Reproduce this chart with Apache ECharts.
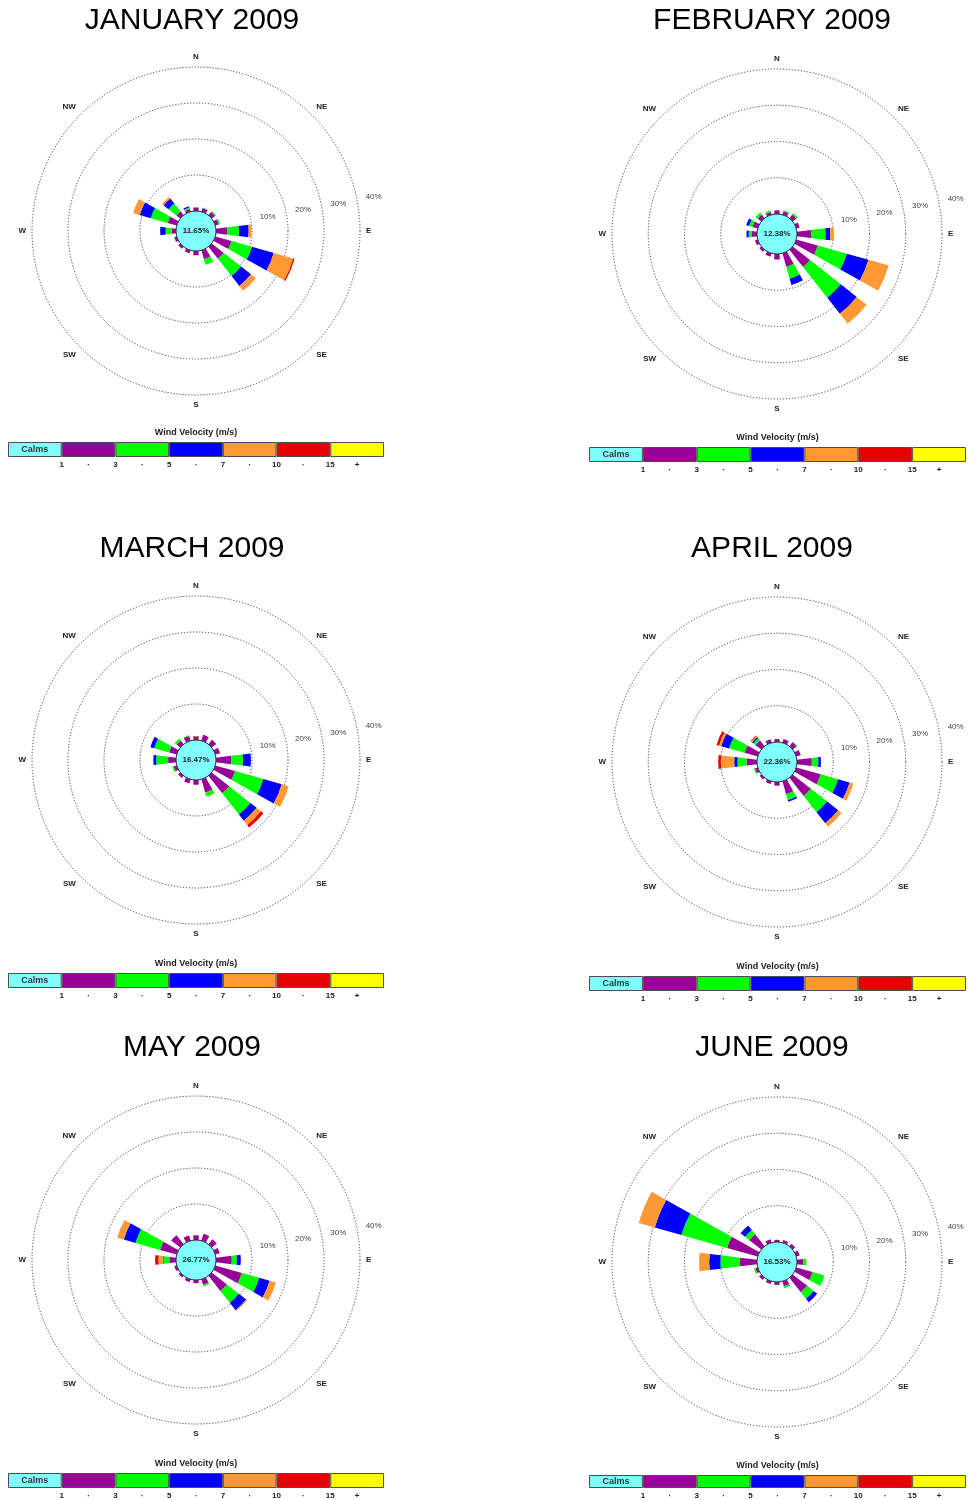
<!DOCTYPE html>
<html><head><meta charset="utf-8">
<script src="https://cdn.jsdelivr.net/npm/echarts@6/dist/echarts.min.js"></script>
<style>html,body{margin:0;padding:0;background:#fff}#c{width:973px;height:1500px}</style>
</head><body><div id="c"></div>
<script>
// ---------- data ----------
const DIRS = ['N','NNE','NE','ENE','E','ESE','SE','SSE','S','SSW','SW','WSW','W','WNW','NW','NNW'];
const COMPASS = ['N','NE','E','SE','S','SW','W','NW'];
const SPEED_CLASSES = ['1 - 3','3 - 5','5 - 7','7 - 10','10 - 15','15 +'];
const LEGEND_CELLS = ['Calms','1 - 3','3 - 5','5 - 7','7 - 10','10 - 15','15 +'];
const LEGEND_TICKS = ['', '', '1', '·', '3', '·', '5', '·', '7', '·', '10', '·', '15', '+', ''];
const RINGS = [10, 20, 30, 40];
const MONTHS = ['JANUARY 2009','FEBRUARY 2009','MARCH 2009','APRIL 2009','MAY 2009','JUNE 2009'];
const CALMS = [11.65, 12.38, 16.47, 22.36, 26.77, 16.53];

//                N    NNE  NE   ENE  E    ESE  SE   SSE  S    SSW  SW   WSW  W    WNW  NW   NNW
const JAN_1_3  = [1.0, 1.1, 1.2, 1.0, 3.2, 4.7, 4.3, 2.6, 1.2, 0.9, 0.7, 0.7, 1.2, 2.6, 1.4, 0.8];
const JAN_3_5  = [0,   0.1, 0.3, 0.4, 3.2, 5.9, 6.1, 1.6, 0,   0,   0,   0.1, 1.7, 4.9, 2.8, 0.4];
const JAN_5_7  = [0,   0,   0,   0,   2.7, 6.3, 3.5, 0,   0,   0,   0,   0,   1.5, 3.2, 1.7, 0.4];
const JAN_7_10 = [0,   0,   0,   0,   0.8, 5.6, 1.7, 0,   0,   0,   0,   0,   0,   1.9, 0.6, 0];
const JAN_10_15= [0,   0,   0,   0,   0,   0.4, 0,   0,   0,   0,   0,   0,   0,   0,   0,   0];
const JAN_15P  = [0,   0,   0,   0,   0,   0,   0,   0,   0,   0,   0,   0,   0,   0,   0,   0];

const FEB_1_3  = [1.0, 1.0, 1.3, 1.0, 3.9, 6.2, 6.1, 3.9, 1.5, 1.0, 0.7, 0.8, 1.4, 1.5, 1.3, 0.8];
const FEB_3_5  = [0,   0.3, 0.5, 0,   4.0, 8.3, 10.8,3.4, 0,   0,   0,   0,   0.9, 1.0, 0.7, 0.4];
const FEB_5_7  = [0,   0,   0,   0,   1.3, 6.2, 5.6, 1.8, 0,   0,   0,   0,   0.6, 0.8, 0,   0];
const FEB_7_10 = [0,   0,   0,   0,   1.0, 5.8, 3.5, 0,   0,   0,   0,   0,   0,   0,   0,   0];
const FEB_10_15= [0,   0,   0,   0,   0,   0,   0,   0,   0,   0,   0,   0,   0,   0,   0,   0];
const FEB_15P  = [0,   0,   0,   0,   0,   0,   0,   0,   0,   0,   0,   0,   0,   0,   0,   0];

const MAR_1_3  = [1.1, 1.7, 1.6, 1.4, 4.3, 5.7, 6.2, 3.8, 1.3, 1.2, 0.8, 0.9, 2.2, 2.2, 1.3, 1.4];
const MAR_3_5  = [0,   0,   0,   0,   3.2, 8.2, 7.5, 1.2, 0,   0,   0,   0.4, 3.3, 4.3, 0.7, 0.2];
const MAR_5_7  = [0,   0,   0,   0,   2.2, 5.3, 2.2, 0,   0,   0,   0,   0,   0.8, 1.1, 0,   0];
const MAR_7_10 = [0,   0,   0,   0,   0,   2.0, 1.5, 0,   0,   0,   0,   0,   0,   0,   0,   0];
const MAR_10_15= [0,   0,   0,   0,   0,   0,   0.9, 0,   0,   0,   0,   0,   0,   0,   0,   0];
const MAR_15P  = [0,   0,   0,   0,   0,   0,   0,   0,   0,   0,   0,   0,   0,   0,   0,   0];

const APR_1_3  = [0.8, 1.1, 1.4, 1.3, 4.1, 7.0, 6.4, 3.7, 1.0, 0.8, 0.6, 0.8, 2.9, 3.8, 2.0, 1.0];
const APR_3_5  = [0,   0,   0.2, 0,   1.8, 5.0, 5.7, 1.7, 0,   0,   0,   0.3, 2.5, 4.4, 0.8, 0];
const APR_5_7  = [0,   0,   0,   0,   0.7, 3.3, 3.9, 0.5, 0,   0,   0,   0,   0.9, 2.3, 0.5, 0];
const APR_7_10 = [0,   0,   0,   0,   0,   1.1, 1.2, 0,   0,   0,   0,   0,   3.7, 0.6, 0.3, 0];
const APR_10_15= [0,   0,   0,   0,   0,   0,   0,   0,   0,   0,   0,   0,   0.7, 0.7, 0.2, 0];
const APR_15P  = [0,   0,   0,   0,   0,   0,   0,   0,   0,   0,   0,   0,   0,   0,   0,   0];

const MAY_1_3  = [1.3, 2.0, 1.8, 1.3, 4.4, 7.7, 5.4, 1.6, 0.9, 0.8, 0.6, 0.7, 1.7, 4.8, 3.2, 1.5];
const MAY_3_5  = [0,   0,   0,   0,   1.4, 5.0, 4.2, 0.4, 0,   0,   0,   0,   1.8, 7.1, 0,   0];
const MAY_5_7  = [0,   0,   0,   0,   1.1, 3.0, 2.6, 0,   0,   0,   0,   0,   0.2, 3.4, 0,   0];
const MAY_7_10 = [0,   0,   0,   0,   0,   1.8, 0.3, 0,   0,   0,   0,   0,   1.2, 1.9, 0,   0];
const MAY_10_15= [0,   0,   0,   0,   0,   0,   0,   0,   0,   0,   0,   0,   0.9, 0,   0,   0];
const MAY_15P  = [0,   0,   0,   0,   0,   0,   0,   0,   0,   0,   0,   0,   0,   0,   0,   0];

const JUN_1_3  = [0.6, 0.8, 0.9, 1.0, 1.8, 4.7, 5.1, 1.4, 0.8, 0.8, 0.8, 0.7, 4.7, 8.8, 4.2, 1.0];
const JUN_3_5  = [0,   0,   0,   0,   0.8, 3.4, 2.3, 0.6, 0,   0,   0,   0.4, 5.4, 13.1,1.5, 0];
const JUN_5_7  = [0,   0,   0,   0,   0,   0,   1.2, 0,   0,   0,   0,   0,   3.1, 7.6, 1.6, 0];
const JUN_7_10 = [0,   0,   0,   0,   0,   0,   0,   0,   0,   0,   0,   0,   2.8, 4.6, 0,   0];
const JUN_10_15= [0,   0,   0,   0,   0,   0,   0,   0,   0,   0,   0,   0,   0,   0,   0,   0];
const JUN_15P  = [0,   0,   0,   0,   0,   0,   0,   0,   0,   0,   0,   0,   0,   0,   0,   0];

const MONTH_DATA = [
  [JAN_1_3, JAN_3_5, JAN_5_7, JAN_7_10, JAN_10_15, JAN_15P],
  [FEB_1_3, FEB_3_5, FEB_5_7, FEB_7_10, FEB_10_15, FEB_15P],
  [MAR_1_3, MAR_3_5, MAR_5_7, MAR_7_10, MAR_10_15, MAR_15P],
  [APR_1_3, APR_3_5, APR_5_7, APR_7_10, APR_10_15, APR_15P],
  [MAY_1_3, MAY_3_5, MAY_5_7, MAY_7_10, MAY_10_15, MAY_15P],
  [JUN_1_3, JUN_3_5, JUN_5_7, JUN_7_10, JUN_10_15, JUN_15P]
];

// ---------- styles / layout ----------
const SPEED_COLORS = ['#990099','#00ff00','#0000ff','#ff9933','#e60000','#ffff00'];
const CALM_COLOR = '#80ffff';
const FONT = '"Liberation Sans", Arial, Helvetica, sans-serif';
const R_IN = 20, LEG_H = 15, R_MAX = 40;
const PANELS = [
  {cx:196, cy:231,  r:164, tx:192, ty:21,   lx:8,   ly:442,  lw:376},
  {cx:777, cy:234,  r:165, tx:772, ty:21,   lx:589, ly:447,  lw:377},
  {cx:196, cy:760,  r:164, tx:192, ty:549,  lx:8,   ly:973,  lw:376},
  {cx:777, cy:762,  r:165, tx:772, ty:549,  lx:589, ly:976,  lw:377},
  {cx:196, cy:1260, r:164, tx:192, ty:1048, lx:8,   ly:1473, lw:376},
  {cx:777, cy:1262, r:165, tx:772, ty:1048, lx:589, ly:1475, lw:377}
];

function txt(x, y, text, size, weight, color) {
  return {type:'text', x:x, y:y, silent:true, z:50,
    style:{text:text, fontSize:size, fontWeight:weight, fontFamily:FONT, fill:color,
      textAlign:'center', textVerticalAlign:'middle', align:'center', verticalAlign:'middle'}};
}

const polar = [], angleAxis = [], radiusAxis = [], grid = [], xAxis = [], yAxis = [], series = [], graphic = [];

PANELS.forEach((p, i) => {
  polar.push({center:[p.cx, p.cy], radius:[R_IN, p.r]});
  angleAxis.push({
    polarIndex:i, type:'category', data:DIRS, startAngle:90 + 360 / 32, clockwise:true, boundaryGap:true,
    axisLine:{show:false}, axisTick:{show:false}, splitLine:{show:false},
    axisLabel:{interval:0, margin:6, fontSize:8, fontWeight:'bold', fontFamily:FONT, color:'#222',
      formatter:v => COMPASS.indexOf(v) >= 0 ? v : ''}
  });
  radiusAxis.push({
    polarIndex:i, type:'value', min:0, max:R_MAX, interval:10,
    axisLine:{show:false}, axisTick:{show:false}, axisLabel:{show:false},
    splitLine:{show:true, lineStyle:{type:[1.2, 1.8], color:'#444', width:1}}
  });
  SPEED_CLASSES.forEach((cls, k) => {
    series.push({type:'bar', coordinateSystem:'polar', polarIndex:i, stack:'rose' + i, name:cls,
      data:MONTH_DATA[i][k], barWidth:'60%', silent:true, itemStyle:{color:SPEED_COLORS[k]}});
  });
  series.push({type:'pie', center:[p.cx, p.cy], radius:[0, R_IN], silent:true, z:5,
    data:[{value:CALMS[i], name:'Calms'}],
    itemStyle:{color:CALM_COLOR, borderColor:'#333', borderWidth:1},
    label:{show:true, position:'center', formatter:CALMS[i].toFixed(2) + '%', fontSize:8, fontWeight:'bold', fontFamily:FONT, color:'#222'},
    labelLine:{show:false}});

  // ring percentage labels
  const ang = 11 * Math.PI / 180;
  RINGS.forEach(v => {
    const rr = R_IN + (p.r - R_IN) * v / R_MAX + 17;
    graphic.push(txt(p.cx + rr * Math.cos(ang), p.cy - rr * Math.sin(ang), v + '%', 8, 'normal', '#444'));
  });
  // title
  graphic.push(txt(p.tx, p.ty, MONTHS[i], 30, 'normal', '#000'));
  // legend caption
  graphic.push(txt(p.lx + p.lw / 2, p.ly - 9, 'Wind Velocity (m/s)', 9, 'bold', '#222'));

  // legend bar
  grid.push({left:p.lx, top:p.ly, width:p.lw, height:LEG_H, containLabel:false});
  xAxis.push({gridIndex:i, type:'value', min:0, max:LEGEND_CELLS.length, interval:0.5,
    axisLine:{show:false}, axisTick:{show:false}, splitLine:{show:false},
    axisLabel:{margin:4, fontSize:8, fontWeight:'bold', fontFamily:FONT, color:'#222', showMinLabel:true, showMaxLabel:true,
      formatter:v => LEGEND_TICKS[Math.round(v * 2)] || ''}});
  yAxis.push({gridIndex:i, type:'category', data:['v'], show:false});
  LEGEND_CELLS.forEach((c, k) => {
    series.push({type:'bar', xAxisIndex:i, yAxisIndex:i, stack:'leg' + i, data:[1], barWidth:'100%', silent:true,
      itemStyle:{color:k === 0 ? CALM_COLOR : SPEED_COLORS[k - 1], borderColor:'#4d4d4d', borderWidth:1},
      label:{show:k === 0, position:'inside', formatter:'Calms', fontSize:9, fontWeight:'bold', fontFamily:FONT, color:'#333'}});
  });
});

const chart = echarts.init(document.getElementById('c'), null, {renderer:'canvas', width:973, height:1500});
chart.setOption({
  animation:false, backgroundColor:'#fff',
  polar, angleAxis, radiusAxis, grid, xAxis, yAxis, series, graphic
});
</script></body></html>
